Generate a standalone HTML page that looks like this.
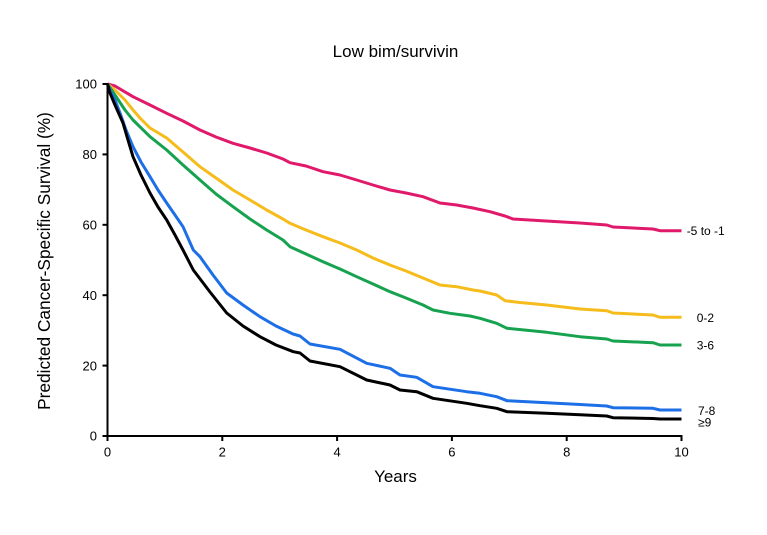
<!DOCTYPE html>
<html>
<head>
<meta charset="utf-8">
<style>
  html,body{margin:0;padding:0;background:#fff;}
  svg{display:block;}
  text{font-family:"Liberation Sans", Arial, sans-serif;fill:#000;}
</style>
</head>
<body>
<svg width="767" height="535" viewBox="0 0 767 535" xmlns="http://www.w3.org/2000/svg">
  <rect width="767" height="535" fill="#fff"/>
  <!-- Title -->
  <text x="395.5" y="57" font-size="17" text-anchor="middle">Low bim/survivin</text>

  <!-- Y axis label -->
  <text transform="translate(50,261) rotate(-90)" font-size="17.3" text-anchor="middle">Predicted Cancer-Specific Survival (%)</text>

  <!-- X axis label -->
  <text x="395.5" y="482" font-size="17" text-anchor="middle">Years</text>

  <!-- Curves -->
  <g fill="none" stroke-width="3" stroke-linejoin="round" stroke-linecap="butt">
    <polyline stroke="#E0196B" points="107.5,84 115,86 133,96.7 150,105 166.7,113.3 183,121 200,130 216,137 233,143.3 250,148 266.7,153 283,159 290,162.7 306,166 323,171.7 340,175 356.7,180 373,185 390,190 406,193 423,196.7 440,203 456.7,205 473,208 490,211.7 505,216 513,219 546,221 580,223 606.7,225 613,227 653,229 660,230.7 681.5,230.7"/>
    <polyline stroke="#F5BC1C" points="107.5,84 115,90 125,100 133,110 140,118 150,128 166.7,138 183,152 200,166.7 216,178 233,190 250,200 266.7,210 283,219 290,223.3 306,230 323,236.7 340,243 356.7,250 373,258 390,265 406,271 423,278 440,285 456.7,286.7 473,290 480,291 496.7,295 505,300.7 520,302.5 546.7,305 580,309 606.7,310.7 613,313 653,315 660,317.3 681.5,317.3"/>
    <polyline stroke="#17A24F" points="107.5,84 115,95 125,110 133,120 150,136.7 166.7,150 183,165 200,180 216,194 233,206.7 250,219 266.7,230 283,240 290,246.7 306,254 323,261.7 340,269 356.7,276.7 373,284 390,291.7 406,298 423,305 433,310 450,313.3 470,316 480,318.3 496.7,323.3 507,328.3 546.7,332.3 580,336.7 606.7,339 613,341 653,342.7 660,345 681.5,345"/>
    <polyline stroke="#1C6FE6" points="107.5,84 110,90 115,100 120,113 126,130 133,146.7 141,162 150,176.7 158,190 166.7,203 175,215 183,226.7 193.3,250 200,256.7 213,275 226.7,293 243,305 260,316.7 276,326 293,334 300,336 310,344 340,349.3 366.7,363.3 390,368.3 400,375 416.7,377.3 433,386.7 466.7,391.7 480,393.3 496.7,396.7 507,400.7 546.7,402.7 580,404.5 606.7,406 613,407.7 653,408.3 660,410 681.5,410"/>
    <polyline stroke="#000" points="107.5,84 110,93 115,105 123,123 128,140 133,156.7 141,175 150,193 158,207 166.7,220 175,235 183,250 193.3,270 210,292 226.7,313 243,326 260,336.7 276,345 293.3,351.7 300,353 310,361 340,366.7 366.7,380 390,385 400,390 416.7,391.7 433,398.3 466.7,403.3 480,405.7 496.7,408.3 507,411.7 546.7,413.3 580,414.8 606.7,416 613,417.7 653,418.5 660,419 681.5,419"/>
  </g>

  <!-- Axes -->
  <g stroke="#000" stroke-width="2" fill="none">
    <line x1="107.5" y1="83" x2="107.5" y2="437"/>
    <line x1="106.5" y1="436" x2="682.5" y2="436"/>
    <!-- y ticks -->
    <line x1="102.5" y1="84" x2="107.5" y2="84"/>
    <line x1="102.5" y1="154.4" x2="107.5" y2="154.4"/>
    <line x1="102.5" y1="224.8" x2="107.5" y2="224.8"/>
    <line x1="102.5" y1="295.2" x2="107.5" y2="295.2"/>
    <line x1="102.5" y1="365.6" x2="107.5" y2="365.6"/>
    <line x1="102.5" y1="436" x2="107.5" y2="436"/>
    <!-- x ticks -->
    <line x1="107.5" y1="436" x2="107.5" y2="441"/>
    <line x1="222.3" y1="436" x2="222.3" y2="441"/>
    <line x1="337.1" y1="436" x2="337.1" y2="441"/>
    <line x1="451.9" y1="436" x2="451.9" y2="441"/>
    <line x1="566.7" y1="436" x2="566.7" y2="441"/>
    <line x1="681.5" y1="436" x2="681.5" y2="441"/>
  </g>

  <!-- Y tick labels -->
  <g font-size="13" text-anchor="end">
    <text x="97" y="88.7">100</text>
    <text x="97" y="159.1">80</text>
    <text x="97" y="229.5">60</text>
    <text x="97" y="299.9">40</text>
    <text x="97" y="370.3">20</text>
    <text x="97" y="440.7">0</text>
  </g>

  <!-- X tick labels -->
  <g font-size="13" text-anchor="middle">
    <text x="107.5" y="456.5">0</text>
    <text x="222.3" y="456.5">2</text>
    <text x="337.1" y="456.5">4</text>
    <text x="451.9" y="456.5">6</text>
    <text x="566.7" y="456.5">8</text>
    <text x="681.5" y="456.5">10</text>
  </g>

  <!-- Series labels -->
  <g font-size="12">
    <text x="686.7" y="235">-5 to -1</text>
    <text x="696.7" y="322">0-2</text>
    <text x="696.7" y="349.5">3-6</text>
    <text x="698" y="415">7-8</text>
    <text x="698" y="426.5">≥9</text>
  </g>
</svg>
</body>
</html>
